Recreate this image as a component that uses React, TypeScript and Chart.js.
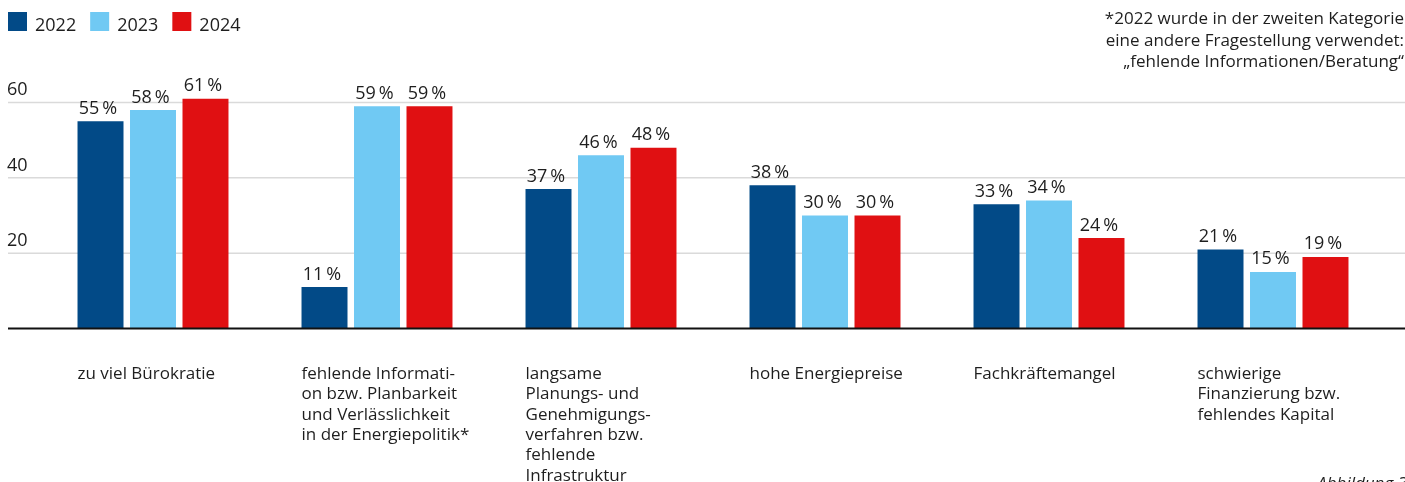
import React, { useEffect, useRef } from "react";
import { Chart, registerables } from "chart.js";

Chart.register(...registerables);

const categories: string[][] = [
  ["zu viel Bürokratie"],
  ["fehlende Informati-", "on bzw. Planbarkeit", "und Verlässlichkeit", "in der Energiepolitik*"],
  ["langsame", "Planungs- und", "Genehmigungs-", "verfahren bzw.", "fehlende", "Infrastruktur"],
  ["hohe Energiepreise"],
  ["Fachkräftemangel"],
  ["schwierige", "Finanzierung bzw.", "fehlendes Kapital"],
];
const years = ["2022", "2023", "2024"];
const values2022 = [55, 11, 37, 38, 33, 21];
const values2023 = [58, 59, 46, 30, 34, 15];
const values2024 = [61, 59, 48, 30, 24, 19];
const yTicks = [20, 40, 60];
const colors = ["#024a87", "#70c9f3", "#e01012"];
const footnote = [
  "*2022 wurde in der zweiten Kategorie",
  "eine andere Fragestellung verwendet:",
  "\u201efehlende Informationen/Beratung\u201c",
];
const figureLabel = "Abbildung 3";

const FONT = "'Open Sans', sans-serif";
const TEXT = "#1e1e1e";

const decorPlugin = {
  id: "decor",
  beforeDatasetsDraw(chart: any) {
    const { ctx } = chart;
    const y = chart.scales.y;
    const w = chart.width;
    ctx.save();
    ctx.strokeStyle = "#dadada";
    ctx.lineWidth = 1.5;
    ctx.fillStyle = TEXT;
    ctx.font = `18px ${FONT}`;
    ctx.textAlign = "left";
    ctx.textBaseline = "alphabetic";
    yTicks.forEach((t) => {
      const py = y.getPixelForValue(t);
      ctx.beginPath();
      ctx.moveTo(8, py);
      ctx.lineTo(w, py);
      ctx.stroke();
      ctx.fillText(String(t), 7, py - 7);
    });
    ctx.restore();
  },
  afterDatasetsDraw(chart: any) {
    const { ctx } = chart;
    const y = chart.scales.y;
    const w = chart.width;
    ctx.save();
    // baseline
    const by = y.getPixelForValue(0);
    ctx.strokeStyle = "#111";
    ctx.lineWidth = 2;
    ctx.beginPath();
    ctx.moveTo(8, by);
    ctx.lineTo(w, by);
    ctx.stroke();

    // value labels
    ctx.fillStyle = TEXT;
    ctx.font = `18px ${FONT}`;
    ctx.textAlign = "center";
    ctx.textBaseline = "alphabetic";
    chart.data.datasets.forEach((ds: any, di: number) => {
      const meta = chart.getDatasetMeta(di);
      meta.data.forEach((bar: any, i: number) => {
        const txt = `${ds.data[i]}\u2009%`;
        ctx.fillText(txt, bar.x - 2.5, bar.y - 7.5);
      });
    });

    // category labels
    const meta0 = chart.getDatasetMeta(0);
    ctx.font = `17px ${FONT}`;
    ctx.textAlign = "left";
    categories.forEach((lines, i) => {
      const bar = meta0.data[i];
      const left = bar.x - bar.width / 2;
      lines.forEach((line, li) => {
        ctx.fillText(line, left, 379 + li * 20.3);
      });
    });

    // legend
    ctx.font = `18px ${FONT}`;
    let lx = 8;
    years.forEach((yr, i) => {
      ctx.fillStyle = colors[i];
      ctx.fillRect(lx, 12, 19, 19);
      ctx.fillStyle = TEXT;
      ctx.fillText(yr, lx + 27, 30.5);
      lx = lx + 27 + ctx.measureText(yr).width + 14;
    });

    // footnote
    ctx.font = `17px ${FONT}`;
    ctx.textAlign = "right";
    footnote.forEach((line, i) => {
      ctx.fillText(line, 1404, 24 + i * 21.7);
    });

    // figure label
    ctx.font = `italic 17px ${FONT}`;
    ctx.fillText(figureLabel, 1407, 489);
    ctx.restore();
  },
};

export default function App() {
  const ref = useRef<HTMLCanvasElement | null>(null);
  useEffect(() => {
    document.body.style.margin = "0";
    const canvas = ref.current;
    if (!canvas) return;
    const chart = new Chart(canvas, {
      type: "bar",
      data: {
        labels: categories.map((c) => c.join(" ")),
        datasets: [
          { label: years[0], data: values2022, backgroundColor: colors[0] },
          { label: years[1], data: values2023, backgroundColor: colors[1] },
          { label: years[2], data: values2024, backgroundColor: colors[2] },
        ],
      },
      options: {
        animation: false,
        responsive: true,
        maintainAspectRatio: false,
        layout: { padding: { left: 41, right: 20, top: 64.8, bottom: 153.5 } },
        datasets: { bar: { categoryPercentage: 0.703, barPercentage: 0.876 } },
        scales: {
          x: { display: false, offset: true },
          y: { display: false, min: 0, max: 70 },
        },
        plugins: { legend: { display: false }, tooltip: { enabled: false } },
      },
      plugins: [decorPlugin],
    } as any);
    return () => chart.destroy();
  }, []);
  return (
    <div style={{ position: "absolute", left: 0, top: 0, width: 1405, height: 482, background: "#fff" }}>
      <canvas ref={ref} />
    </div>
  );
}
